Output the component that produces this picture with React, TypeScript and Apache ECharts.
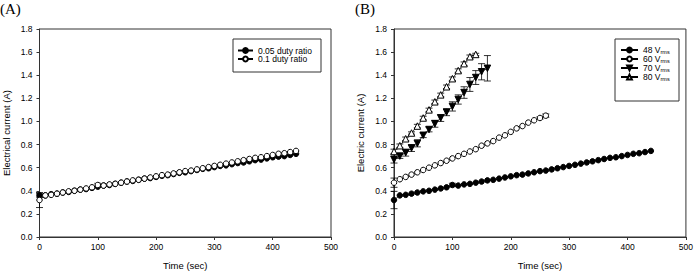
import React, { useEffect, useRef } from "react";
import * as echarts from "echarts";

// ---- data ----
const timeLong = [0, 10, 20, 30, 40, 50, 60, 70, 80, 90, 100, 110, 120, 130, 140, 150, 160, 170, 180, 190, 200, 210, 220, 230, 240, 250, 260, 270, 280, 290, 300, 310, 320, 330, 340, 350, 360, 370, 380, 390, 400, 410, 420, 430, 440];
const time60 = [0, 10, 20, 30, 40, 50, 60, 70, 80, 90, 100, 110, 120, 130, 140, 150, 160, 170, 180, 190, 200, 210, 220, 230, 240, 250, 260];
const time70 = [0, 10, 20, 30, 40, 50, 60, 70, 80, 90, 100, 110, 120, 130, 140, 150, 160];
const time80 = [0, 10, 20, 30, 40, 50, 60, 70, 80, 90, 100, 110, 120, 130, 140];

const duty005 = [0.36, 0.36, 0.37, 0.375, 0.385, 0.39, 0.40, 0.41, 0.415, 0.425, 0.435, 0.445, 0.45, 0.46, 0.47, 0.48, 0.485, 0.495, 0.505, 0.51, 0.52, 0.53, 0.535, 0.545, 0.555, 0.56, 0.57, 0.58, 0.59, 0.595, 0.605, 0.615, 0.62, 0.63, 0.64, 0.645, 0.655, 0.665, 0.67, 0.68, 0.69, 0.695, 0.70, 0.71, 0.72];
const duty01 = [0.32, 0.36, 0.365, 0.375, 0.385, 0.395, 0.40, 0.41, 0.42, 0.43, 0.45, 0.445, 0.455, 0.46, 0.47, 0.48, 0.49, 0.495, 0.505, 0.515, 0.525, 0.535, 0.54, 0.55, 0.56, 0.57, 0.575, 0.585, 0.595, 0.605, 0.615, 0.625, 0.635, 0.645, 0.655, 0.665, 0.675, 0.685, 0.69, 0.70, 0.71, 0.72, 0.725, 0.735, 0.745];

const v48 = [0.32, 0.36, 0.365, 0.375, 0.385, 0.395, 0.40, 0.41, 0.42, 0.43, 0.45, 0.445, 0.455, 0.46, 0.47, 0.48, 0.49, 0.495, 0.505, 0.515, 0.525, 0.535, 0.54, 0.55, 0.56, 0.57, 0.575, 0.585, 0.595, 0.605, 0.615, 0.625, 0.635, 0.645, 0.655, 0.665, 0.675, 0.685, 0.69, 0.70, 0.71, 0.72, 0.725, 0.735, 0.745];
const v60 = [0.47, 0.50, 0.52, 0.54, 0.56, 0.58, 0.60, 0.62, 0.64, 0.66, 0.68, 0.70, 0.72, 0.74, 0.76, 0.79, 0.81, 0.83, 0.86, 0.88, 0.91, 0.94, 0.96, 0.99, 1.01, 1.03, 1.05];
const v70 = [0.67, 0.70, 0.73, 0.77, 0.81, 0.88, 0.93, 0.98, 1.03, 1.08, 1.13, 1.19, 1.25, 1.32, 1.38, 1.43, 1.46];
const v80 = [0.74, 0.79, 0.85, 0.90, 0.96, 1.03, 1.10, 1.17, 1.23, 1.30, 1.37, 1.44, 1.50, 1.56, 1.58];

// error bars: [time, half-width]
const err005: number[][] = [[0, 0.015]];
const err01: number[][] = [[0, 0.065], [100, 0.015]];
const err48: number[][] = [[0, 0.075], [100, 0.015]];
const err60: number[][] = [[0, 0.04], [250, 0.01], [260, 0.015]];
const err70 = [0.03, 0.02, 0.03, 0.03, 0.03, 0.02, 0.02, 0.03, 0.03, 0.03, 0.04, 0.04, 0.05, 0.06, 0.06, 0.07, 0.11];
const err80 = [0.02, 0.015, 0.015, 0.01, 0.015, 0.015, 0.015, 0.015, 0.015, 0.015, 0.015, 0.015, 0.015, 0.015, 0.01];

const xTicks = [0, 100, 200, 300, 400, 500];
const yMax = 1.8;

const FONT = "Liberation Sans, Arial, sans-serif";

function pairs(t: number[], v: number[]) {
  return t.map((x, i) => [x, v[i]]);
}
function errFromSparse(t: number[], v: number[], e: number[][]) {
  return e.map(([x, err]) => [x, v[t.indexOf(x)], err]);
}
function errFromFull(t: number[], v: number[], e: number[]) {
  return t.map((x, i) => [x, v[i], e[i]]);
}

const errRender = (params: any, api: any) => {
  const x = api.value(0);
  const y = api.value(1);
  const e = api.value(2);
  const top = api.coord([x, y + e]);
  const bot = api.coord([x, y - e]);
  const w = 3.5;
  const style = { stroke: "#000", lineWidth: 0.8 };
  return {
    type: "group",
    children: [
      { type: "line", shape: { x1: top[0], y1: top[1], x2: bot[0], y2: bot[1] }, style },
      { type: "line", shape: { x1: top[0] - w, y1: top[1], x2: top[0] + w, y2: top[1] }, style },
      { type: "line", shape: { x1: bot[0] - w, y1: bot[1], x2: bot[0] + w, y2: bot[1] }, style },
    ],
  };
};

function lineSeries(name: string, data: number[][], idx: number, symbol: string, filled: boolean, size: number, rotate = 0) {
  return {
    name,
    type: "line",
    xAxisIndex: idx,
    yAxisIndex: idx,
    data,
    symbol,
    symbolSize: size,
    symbolRotate: rotate,
    showAllSymbol: true,
    z: 3,
    lineStyle: { color: "#000", width: 0.8 },
    itemStyle: { color: filled ? "#000" : "#fff", borderColor: "#000", borderWidth: 1 },
    emphasis: { disabled: true },
  };
}

function errSeries(data: number[][], idx: number) {
  return {
    type: "custom",
    xAxisIndex: idx,
    yAxisIndex: idx,
    data,
    renderItem: errRender,
    z: 2,
    silent: true,
  };
}

function xAxis(gridIndex: number) {
  return {
    type: "value",
    gridIndex,
    min: 0,
    max: 500,
    interval: 100,
    name: "Time (sec)",
    nameLocation: "middle",
    nameGap: 23,
    nameTextStyle: { fontFamily: FONT, fontSize: 9.5, color: "#000" },
    axisLine: { show: true, lineStyle: { color: "#333", width: 1 } },
    axisTick: { show: true, length: 3, inside: false, lineStyle: { color: "#333" } },
    axisLabel: { fontFamily: FONT, fontSize: 8.5, color: "#000", margin: 5, customValues: xTicks },
    splitLine: { show: false },
  };
}
function yAxis(gridIndex: number, name: string) {
  return {
    type: "value",
    gridIndex,
    min: 0,
    max: yMax,
    interval: 0.2,
    name,
    nameLocation: "middle",
    nameGap: 28.5,
    nameTextStyle: { fontFamily: FONT, fontSize: 9.5, color: "#000" },
    axisLine: { show: true, lineStyle: { color: "#333", width: 1 } },
    axisTick: { show: true, length: 3, inside: false, lineStyle: { color: "#333" } },
    axisLabel: { fontFamily: FONT, fontSize: 8.5, color: "#000", margin: 7, formatter: (v: number) => v.toFixed(1) },
    splitLine: { show: false },
  };
}

const legendText = { fontFamily: FONT, fontSize: 8.5, color: "#000" };
const richLegend = {
  n: { fontFamily: FONT, fontSize: 8.5, color: "#000" },
  s: { fontFamily: FONT, fontSize: 5.5, color: "#000", verticalAlign: "bottom", padding: [3, 0, 0, 0] },
};

function legendItem(name: string, left: number, top: number, itemWidth: number, rich = false) {
  return {
    data: [name],
    left,
    top,
    padding: 0,
    itemWidth,
    itemHeight: 6,
    itemGap: 0,
    selectedMode: false,
    textStyle: rich ? { ...legendText, rich: richLegend } : legendText,
    formatter: rich ? (n: string) => `{n|${n.replace(" Vrms", " V")}}{s|rms}` : undefined,
  };
}

export default function App() {
  const ref = useRef<HTMLDivElement>(null);
  useEffect(() => {
    if (!ref.current) return;
    const chart = echarts.init(ref.current, null, { renderer: "svg" });
    const option: any = {
      animation: false,
      backgroundColor: "#fff",
      title: [
        { text: "(A)", left: 0, top: 1, padding: 0, textStyle: { fontFamily: "Liberation Serif, serif", fontSize: 15, fontWeight: "normal", color: "#000" } },
        { text: "(B)", left: 355, top: 1, padding: 0, textStyle: { fontFamily: "Liberation Serif, serif", fontSize: 15, fontWeight: "normal", color: "#000" } },
      ],
      grid: [
        { left: 35, right: 365, top: 29, bottom: 35, show: true, borderColor: "#333", borderWidth: 1, backgroundColor: "transparent" },
        { left: 394, right: 7, top: 29, bottom: 35, show: true, borderColor: "#333", borderWidth: 1, backgroundColor: "transparent" },
      ],
      xAxis: [xAxis(0), xAxis(1)],
      yAxis: [yAxis(0, "Electrical current (A)"), yAxis(1, "Electric current (A)")],
      graphic: [
        { type: "rect", z: -1, shape: { x: 233, y: 39, width: 88, height: 33 }, style: { fill: "#fff", stroke: "#333", lineWidth: 1 } },
        { type: "rect", z: -1, shape: { x: 615, y: 39, width: 64, height: 62 }, style: { fill: "#fff", stroke: "#333", lineWidth: 1 } },
      ],
      legend: [
        legendItem("0.05 duty ratio", 237, 46, 15),
        legendItem("0.1 duty ratio", 237, 54.5, 15),
        legendItem("48 Vrms", 620, 45.5, 17, true),
        legendItem("60 Vrms", 620, 54.5, 17, true),
        legendItem("70 Vrms", 620, 63.5, 17, true),
        legendItem("80 Vrms", 620, 72.5, 17, true),
      ],
      series: [
        errSeries(errFromSparse(timeLong, duty005, err005), 0),
        errSeries(errFromSparse(timeLong, duty01, err01), 0),
        lineSeries("0.05 duty ratio", pairs(timeLong, duty005), 0, "circle", true, 5.5),
        lineSeries("0.1 duty ratio", pairs(timeLong, duty01), 0, "circle", false, 5.5),

        errSeries(errFromSparse(timeLong, v48, err48), 1),
        errSeries(errFromSparse(time60, v60, err60), 1),
        errSeries(errFromFull(time70, v70, err70), 1),
        errSeries(errFromFull(time80, v80, err80), 1),
        lineSeries("48 Vrms", pairs(timeLong, v48), 1, "circle", true, 5.5),
        lineSeries("60 Vrms", pairs(time60, v60), 1, "circle", false, 5.5),
        lineSeries("70 Vrms", pairs(time70, v70), 1, "triangle", true, 6.5, 180),
        lineSeries("80 Vrms", pairs(time80, v80), 1, "triangle", false, 6.5),
      ],
    };
    chart.setOption(option);
    return () => chart.dispose();
  }, []);
  return (
    <div
      ref={ref}
      style={{ position: "absolute", left: 0, top: 0, width: 696, height: 275, background: "#fff" }}
    />
  );
}
